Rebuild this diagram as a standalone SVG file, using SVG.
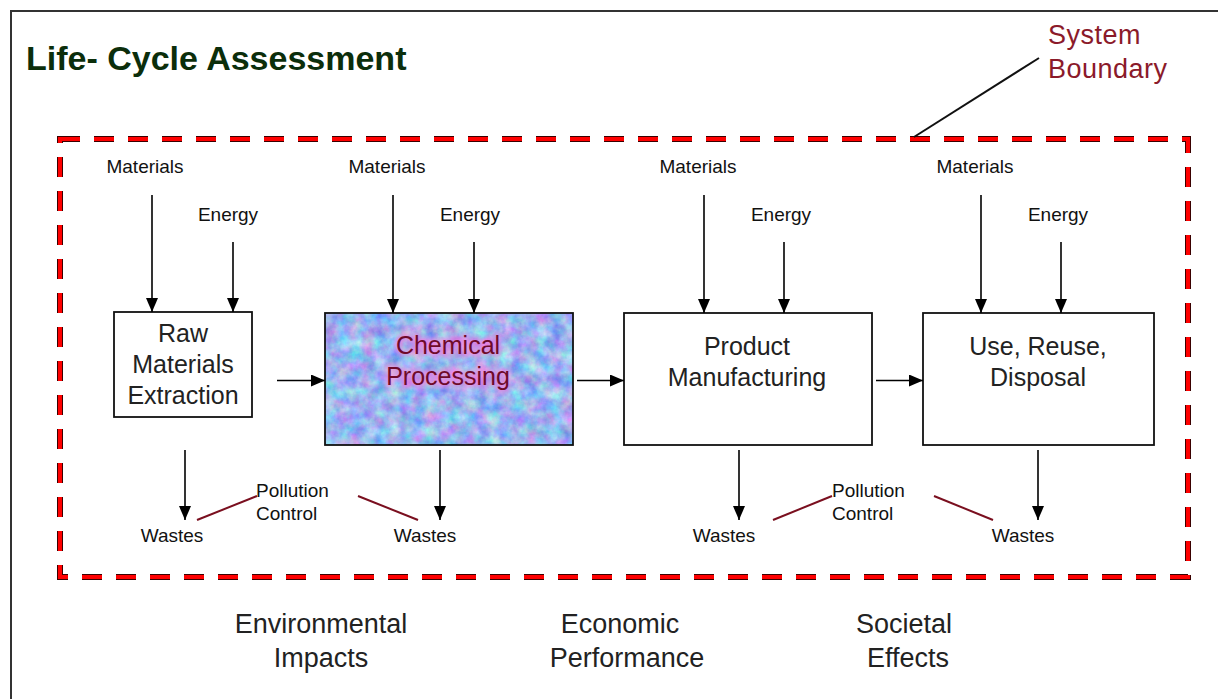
<svg xmlns="http://www.w3.org/2000/svg" width="1218" height="699" viewBox="0 0 1218 699">
  <style>
    .lbl { font-family: "Liberation Sans", Arial, sans-serif; font-size: 19px; fill: #111; }
    .box { fill: #fff; stroke: #111; stroke-width: 1.8; }
    .btxt { font-family: "Liberation Sans", Arial, sans-serif; font-size: 25px; fill: #222; text-anchor: middle; }
    .big { font-family: "Liberation Sans", Arial, sans-serif; font-size: 27px; fill: #222; text-anchor: middle; }
    .flow { stroke: #000; stroke-width: 1.6; fill: none; marker-end: url(#ah); }
    .pc { stroke: #7a0f1f; stroke-width: 2; fill: none; }
  </style>
  <defs>
    <marker id="ah" viewBox="0 0 14 12" refX="14" refY="6" markerWidth="14" markerHeight="12" markerUnits="userSpaceOnUse" orient="auto">
      <path d="M0,0 L14,6 L0,12 z" fill="#000"/>
    </marker>
    <!-- mottled blue/lavender fill for the highlighted stage -->
    <filter id="marble" x="0" y="0" width="1" height="1" filterUnits="objectBoundingBox" color-interpolation-filters="sRGB">
      <feTurbulence type="fractalNoise" baseFrequency="0.08" numOctaves="4" seed="7" result="n"/>
      <feColorMatrix in="n" type="matrix" values="0.65 0 0 0 0.28  0 0.6 0 0 0.41  0 0 0.2 0 0.84  0 0 0 0 1"/>
    </filter>
    <filter id="glow" x="-10%" y="-30%" width="120%" height="160%">
      <feGaussianBlur stdDeviation="2.2"/>
    </filter>
  </defs>

  <!-- page -->
  <rect x="0" y="0" width="1218" height="699" fill="#fff"/>
  <rect x="11" y="11" width="1230" height="700" fill="none" stroke="#333" stroke-width="2"/>

  <!-- title -->
  <text x="26" y="70" font-family="Liberation Sans, Arial, sans-serif" font-size="34" font-weight="bold" fill="#0b2e0b">Life- Cycle Assessment</text>

  <!-- system boundary -->
  <g id="boundary">
    <rect x="60" y="139" width="1128" height="438" fill="none" stroke="#3a0000" stroke-width="6" stroke-dasharray="20 14"/>
    <rect x="60" y="139" width="1128" height="438" fill="none" stroke="#ff0000" stroke-width="4" stroke-dasharray="20 14"/>
    <line x1="914" y1="137" x2="1039" y2="58" stroke="#111" stroke-width="2"/>
    <text x="1048" y="44" font-family="Liberation Sans, Arial, sans-serif" font-size="27" letter-spacing="0.5" fill="#8b1a2a">System</text>
    <text x="1048" y="78" font-family="Liberation Sans, Arial, sans-serif" font-size="27" letter-spacing="0.5" fill="#8b1a2a">Boundary</text>
  </g>

  <!-- stages -->
  <g id="raw">
    <rect class="box" x="114" y="312" width="138" height="105"/>
    <text class="btxt" x="183" y="342">Raw</text>
    <text class="btxt" x="183" y="373">Materials</text>
    <text class="btxt" x="183" y="404">Extraction</text>
  </g>
  <g id="chemical">
    <rect x="325" y="313" width="248" height="132" filter="url(#marble)"/>
    <rect x="325" y="313" width="248" height="132" fill="none" stroke="#111" stroke-width="1.8"/>
    <g filter="url(#glow)" opacity="0.6">
      <text class="btxt" x="448" y="354" style="fill:#ff5ccf;stroke:#ff7ad8;stroke-width:5">Chemical</text>
      <text class="btxt" x="448" y="385" style="fill:#ff5ccf;stroke:#ff7ad8;stroke-width:5">Processing</text>
    </g>
    <text class="btxt" x="448" y="354" style="fill:#6e0a2a">Chemical</text>
    <text class="btxt" x="448" y="385" style="fill:#6e0a2a">Processing</text>
  </g>
  <g id="product">
    <rect class="box" x="624" y="313" width="248" height="132"/>
    <text class="btxt" x="747" y="355">Product</text>
    <text class="btxt" x="747" y="386">Manufacturing</text>
  </g>
  <g id="use">
    <rect class="box" x="923" y="313" width="231" height="132"/>
    <text class="btxt" x="1038" y="355">Use, Reuse,</text>
    <text class="btxt" x="1038" y="386">Disposal</text>
  </g>

  <!-- inputs and outputs -->
  <g id="labels" class="lbl">
    <text x="145" y="173" text-anchor="middle">Materials</text>
    <text x="228" y="221" text-anchor="middle">Energy</text>
    <text x="387" y="173" text-anchor="middle">Materials</text>
    <text x="470" y="221" text-anchor="middle">Energy</text>
    <text x="698" y="173" text-anchor="middle">Materials</text>
    <text x="781" y="221" text-anchor="middle">Energy</text>
    <text x="975" y="173" text-anchor="middle">Materials</text>
    <text x="1058" y="221" text-anchor="middle">Energy</text>

    <text x="172" y="542" text-anchor="middle">Wastes</text>
    <text x="425" y="542" text-anchor="middle">Wastes</text>
    <text x="724" y="542" text-anchor="middle">Wastes</text>
    <text x="1023" y="542" text-anchor="middle">Wastes</text>

    <text x="256" y="497">Pollution</text>
    <text x="256" y="520">Control</text>
    <text x="832" y="497">Pollution</text>
    <text x="832" y="520">Control</text>
  </g>

  <!-- connectors -->
  <g id="connectors">
    <line class="flow" x1="152" y1="195" x2="152" y2="312"/>
    <line class="flow" x1="233" y1="242" x2="233" y2="312"/>
    <line class="flow" x1="393" y1="195" x2="393" y2="313"/>
    <line class="flow" x1="474" y1="242" x2="474" y2="313"/>
    <line class="flow" x1="704" y1="195" x2="704" y2="313"/>
    <line class="flow" x1="784" y1="242" x2="784" y2="313"/>
    <line class="flow" x1="981" y1="195" x2="981" y2="313"/>
    <line class="flow" x1="1061" y1="242" x2="1061" y2="313"/>

    <line class="flow" x1="277" y1="380.5" x2="325" y2="380.5"/>
    <line class="flow" x1="577" y1="380.5" x2="624" y2="380.5"/>
    <line class="flow" x1="876" y1="380.5" x2="923" y2="380.5"/>

    <line class="flow" x1="185" y1="450" x2="185" y2="520"/>
    <line class="flow" x1="440" y1="450" x2="440" y2="520"/>
    <line class="flow" x1="739" y1="450" x2="739" y2="520"/>
    <line class="flow" x1="1038" y1="450" x2="1038" y2="520"/>

    <line class="pc" x1="197" y1="520" x2="257" y2="496"/>
    <line class="pc" x1="358" y1="496" x2="418" y2="520"/>
    <line class="pc" x1="773" y1="520" x2="832" y2="496"/>
    <line class="pc" x1="934" y1="496" x2="993" y2="520"/>
  </g>

  <!-- assessment dimensions -->
  <g id="dimensions" class="big">
    <text x="321" y="633">Environmental</text>
    <text x="321" y="667">Impacts</text>
    <text x="620" y="633">Economic</text>
    <text x="627" y="667">Performance</text>
    <text x="904" y="633">Societal</text>
    <text x="908" y="667">Effects</text>
  </g>
</svg>
